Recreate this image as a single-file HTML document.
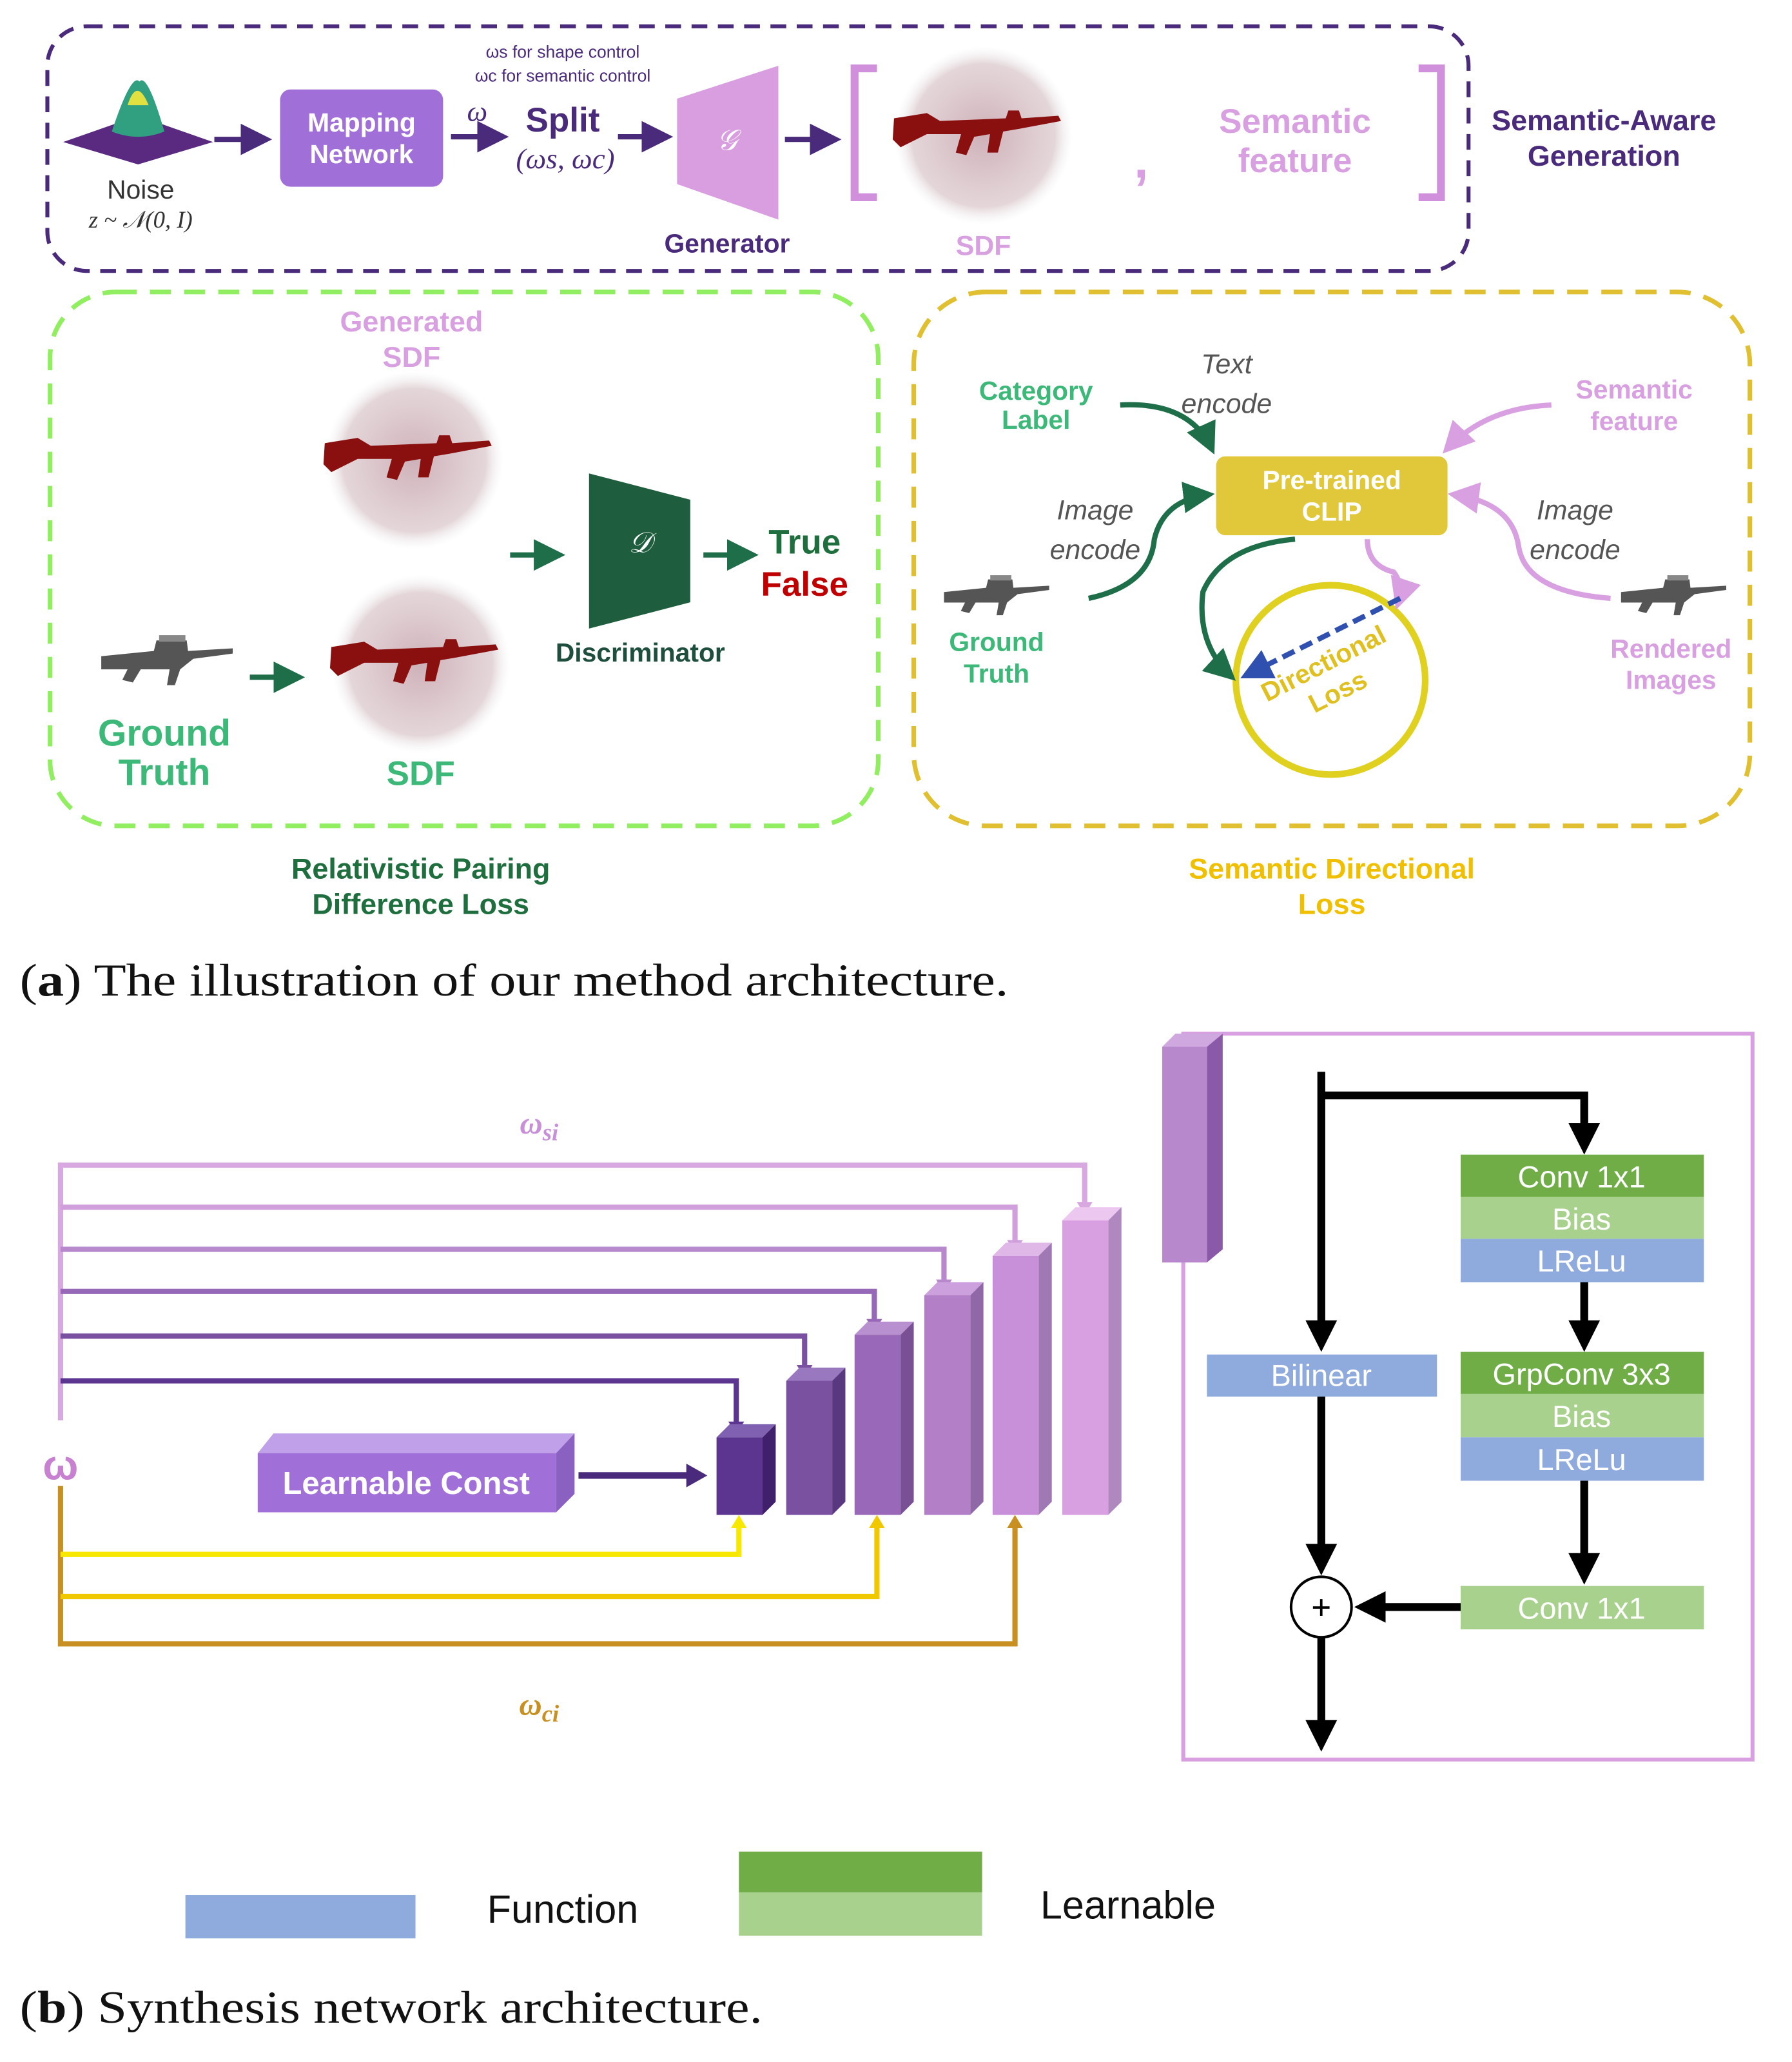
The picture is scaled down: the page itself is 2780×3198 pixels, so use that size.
<!DOCTYPE html>
<html><head><meta charset="utf-8"><style>
html,body{margin:0;padding:0;background:#fff}
svg{display:block}
text{font-family:"Liberation Sans","DejaVu Sans",sans-serif}
.b{font-weight:bold}
.s{font-family:"Liberation Serif",serif}
</style></head><body>
<svg width="2780" height="3198" viewBox="0 0 1363 1568" xmlns="http://www.w3.org/2000/svg">
<defs>
<radialGradient id="pc" cx="50%" cy="50%" r="50%">
<stop offset="0" stop-color="#c9a8b0" stop-opacity="0.9"/>
<stop offset="0.8" stop-color="#d8c4c8" stop-opacity="0.7"/>
<stop offset="1" stop-color="#eee" stop-opacity="0"/>
</radialGradient>
<marker id="ap" markerWidth="6" markerHeight="6" refX="5" refY="3" orient="auto" markerUnits="strokeWidth"><path d="M0,0L6,3L0,6z" fill="#4a2a7a"/></marker>
<marker id="ag" markerWidth="6" markerHeight="6" refX="5" refY="3" orient="auto" markerUnits="strokeWidth"><path d="M0,0L6,3L0,6z" fill="#1e6e4a"/></marker>
<marker id="ak" markerWidth="4" markerHeight="4" refX="3" refY="2" orient="auto" markerUnits="strokeWidth"><path d="M0,0L4,2L0,4z" fill="#000"/></marker>
<marker id="apk" markerWidth="6" markerHeight="6" refX="5" refY="3" orient="auto" markerUnits="strokeWidth"><path d="M0,0L6,3L0,6z" fill="#d8a0e0"/></marker>
<marker id="abl" markerWidth="6" markerHeight="6" refX="5" refY="3" orient="auto" markerUnits="strokeWidth"><path d="M0,0L6,3L0,6z" fill="#3050b0"/></marker>
<g id="gun"><path d="M-65,-8 L-40,-12 L-30,-6 L20,-8 L22,-14 L30,-14 L32,-8 L60,-10 L62,-6 L30,0 L18,2 L14,18 L6,18 L8,4 L-4,6 L-10,20 L-18,18 L-14,4 L-40,4 L-60,14 L-66,8 z" fill="#8a1010"/></g>
<g id="ggun"><path d="M-50,-6 L-10,-10 L-8,-18 L15,-18 L16,-10 L50,-12 L50,-8 L20,-4 L10,4 L6,16 L0,16 L2,4 L-20,4 L-26,14 L-34,12 L-30,4 L-50,4 z" fill="#555"/><rect x="-6" y="-22" width="20" height="5" fill="#888"/></g>
</defs>

<rect x="36" y="20" width="1081" height="186" rx="30" fill="none" stroke="#4a2a7a" stroke-width="3" stroke-dasharray="12,8"/>
<path d="M48,108 L105,88 L162,108 L105,125 z" fill="#5a2a80"/>
<path d="M85,100 Q100,55 106,62 Q112,55 125,100 Q105,108 85,100z" fill="#30a080"/>
<path d="M97,80 Q104,58 113,80z" fill="#e0e040"/>
<text x="107" y="151" font-size="20" text-anchor="middle" fill="#333">Noise</text>
<text x="107" y="173" font-size="18" text-anchor="middle" class="s" font-style="italic" fill="#333">z ~ 𝒩(0, I)</text>
<line x1="163" y1="106" x2="203" y2="106" stroke="#4a2a7a" stroke-width="4" marker-end="url(#ap)"/>
<rect x="213" y="68" width="124" height="74" rx="8" fill="#a070d8"/>
<text x="275" y="100" font-size="20" text-anchor="middle" fill="#fff" class="b">Mapping</text>
<text x="275" y="124" font-size="20" text-anchor="middle" fill="#fff" class="b">Network</text>
<text x="363" y="92" font-size="22" class="s" font-style="italic" text-anchor="middle" fill="#4a2a7a">ω</text>
<line x1="343" y1="104" x2="383" y2="104" stroke="#4a2a7a" stroke-width="4" marker-end="url(#ap)"/>
<text x="428" y="44" font-size="13" text-anchor="middle" fill="#4a2a7a">ωs for shape control</text>
<text x="428" y="62" font-size="13" text-anchor="middle" fill="#4a2a7a">ωc for semantic control</text>
<text x="428" y="100" font-size="26" text-anchor="middle" fill="#4a2a7a" class="b">Split</text>
<text x="430" y="128" font-size="22" text-anchor="middle" class="s" font-style="italic" fill="#4a2a7a">(ωs, ωc)</text>
<line x1="470" y1="104" x2="508" y2="104" stroke="#4a2a7a" stroke-width="4" marker-end="url(#ap)"/>
<path d="M515,75 L592,50 L592,167 L515,140 z" fill="#d89ee0"/>
<text x="553" y="114" font-size="22" text-anchor="middle" fill="#fff" class="s" font-style="italic">𝒢</text>
<text x="553" y="192" font-size="20" text-anchor="middle" fill="#4a2a7a" class="b">Generator</text>
<line x1="597" y1="106" x2="636" y2="106" stroke="#4a2a7a" stroke-width="4" marker-end="url(#ap)"/>
<path d="M667,52 L650,52 L650,150 L667,150" fill="none" stroke="#d090dc" stroke-width="6"/>
<circle cx="748" cy="103" r="68" fill="url(#pc)"/>
<use href="#gun" x="745" y="98"/>
<text x="748" y="194" font-size="21" text-anchor="middle" fill="#d8a0e0" class="b">SDF</text>
<text x="868" y="135" font-size="40" text-anchor="middle" fill="#d8a0e0" class="b">,</text>
<text x="985" y="101" font-size="26" text-anchor="middle" fill="#d8a0e0" class="b">Semantic</text>
<text x="985" y="131" font-size="26" text-anchor="middle" fill="#d8a0e0" class="b">feature</text>
<path d="M1079,52 L1096,52 L1096,150 L1079,150" fill="none" stroke="#d090dc" stroke-width="6"/>
<text x="1220" y="99" font-size="22" text-anchor="middle" fill="#4a2a7a" class="b">Semantic-Aware</text>
<text x="1220" y="126" font-size="22" text-anchor="middle" fill="#4a2a7a" class="b">Generation</text>

<rect x="38" y="222" width="630" height="406" rx="50" fill="none" stroke="#90ee60" stroke-width="3.5" stroke-dasharray="16,10"/>
<text x="313" y="252" font-size="22" text-anchor="middle" fill="#d8a0e0" class="b">Generated</text>
<text x="313" y="279" font-size="22" text-anchor="middle" fill="#d8a0e0" class="b">SDF</text>
<circle cx="315" cy="350" r="68" fill="url(#pc)"/>
<use href="#gun" x="312" y="345"/>
<circle cx="320" cy="505" r="68" fill="url(#pc)"/>
<use href="#gun" x="317" y="500"/>
<use href="#ggun" x="127" y="505"/>
<line x1="190" y1="515" x2="228" y2="515" stroke="#1e6e4a" stroke-width="4" marker-end="url(#ag)"/>
<text x="125" y="567" font-size="28" text-anchor="middle" fill="#3cb878" class="b">Ground</text>
<text x="125" y="597" font-size="28" text-anchor="middle" fill="#3cb878" class="b">Truth</text>
<text x="320" y="597" font-size="26" text-anchor="middle" fill="#3cb878" class="b">SDF</text>
<line x1="388" y1="422" x2="426" y2="422" stroke="#1e6e4a" stroke-width="4" marker-end="url(#ag)"/>
<path d="M448,360 L525,380 L525,458 L448,478 z" fill="#1e5e3e"/>
<text x="487" y="420" font-size="22" text-anchor="middle" fill="#fff" class="s" font-style="italic">𝒟</text>
<text x="487" y="503" font-size="20" text-anchor="middle" fill="#1e4e3e" class="b">Discriminator</text>
<line x1="535" y1="422" x2="573" y2="422" stroke="#1e6e4a" stroke-width="4" marker-end="url(#ag)"/>
<text x="612" y="421" font-size="26" text-anchor="middle" fill="#1e6e3e" class="b">True</text>
<text x="612" y="453" font-size="26" text-anchor="middle" fill="#c00000" class="b">False</text>
<text x="320" y="668" font-size="22" text-anchor="middle" fill="#1e6e3e" class="b">Relativistic Pairing</text>
<text x="320" y="695" font-size="22" text-anchor="middle" fill="#1e6e3e" class="b">Difference Loss</text>

<rect x="695" y="222" width="636" height="406" rx="55" fill="none" stroke="#e0c030" stroke-width="3.5" stroke-dasharray="16,10"/>
<text x="788" y="304" font-size="20" text-anchor="middle" fill="#3cb878" class="b">Category</text>
<text x="788" y="326" font-size="20" text-anchor="middle" fill="#3cb878" class="b">Label</text>
<text x="933" y="284" font-size="21" text-anchor="middle" fill="#555" font-style="italic">Text</text>
<text x="933" y="314" font-size="21" text-anchor="middle" fill="#555" font-style="italic">encode</text>
<path d="M852,308 Q905,305 922,342" fill="none" stroke="#1e6e4a" stroke-width="4" marker-end="url(#ag)"/>
<rect x="925" y="347" width="176" height="60" rx="7" fill="#e0c83a"/>
<text x="1013" y="372" font-size="20" text-anchor="middle" fill="#fff" class="b">Pre-trained</text>
<text x="1013" y="396" font-size="20" text-anchor="middle" fill="#fff" class="b">CLIP</text>
<text x="1243" y="303" font-size="20" text-anchor="middle" fill="#d8a0e0" class="b">Semantic</text>
<text x="1243" y="327" font-size="20" text-anchor="middle" fill="#d8a0e0" class="b">feature</text>
<path d="M1180,308 Q1130,310 1100,342" fill="none" stroke="#d8a0e0" stroke-width="4" marker-end="url(#apk)"/>
<text x="833" y="395" font-size="21" text-anchor="middle" fill="#555" font-style="italic">Image</text>
<text x="833" y="425" font-size="21" text-anchor="middle" fill="#555" font-style="italic">encode</text>
<path d="M828,455 Q875,445 878,410 Q885,380 920,376" fill="none" stroke="#1e6e4a" stroke-width="4" marker-end="url(#ag)"/>
<text x="1198" y="395" font-size="21" text-anchor="middle" fill="#555" font-style="italic">Image</text>
<text x="1198" y="425" font-size="21" text-anchor="middle" fill="#555" font-style="italic">encode</text>
<path d="M1225,455 Q1160,450 1155,415 Q1150,382 1105,376" fill="none" stroke="#d8a0e0" stroke-width="4" marker-end="url(#apk)"/>
<use href="#ggun" x="758" y="455" transform="translate(758,455) scale(0.8) translate(-758,-455)"/>
<text x="758" y="495" font-size="20" text-anchor="middle" fill="#3cb878" class="b">Ground</text>
<text x="758" y="519" font-size="20" text-anchor="middle" fill="#3cb878" class="b">Truth</text>
<use href="#ggun" x="1273" y="455" transform="translate(1273,455) scale(0.8) translate(-1273,-455)"/>
<text x="1271" y="500" font-size="20" text-anchor="middle" fill="#d8a0e0" class="b">Rendered</text>
<text x="1271" y="524" font-size="20" text-anchor="middle" fill="#d8a0e0" class="b">Images</text>
<circle cx="1012" cy="517" r="72" fill="none" stroke="#e0d020" stroke-width="5"/>
<path d="M985,410 Q930,415 915,450 Q910,490 937,515" fill="none" stroke="#1e6e4a" stroke-width="4" marker-end="url(#ag)"/>
<path d="M1040,410 Q1040,430 1060,435 Q1068,445 1063,460" fill="none" stroke="#d8a0e0" stroke-width="4" marker-end="url(#apk)"/>
<line x1="1065" y1="455" x2="947" y2="514" stroke="#3050b0" stroke-width="4" stroke-dasharray="10,5" marker-end="url(#abl)"/>
<g transform="rotate(-27 1012 515)"><text x="1012" y="510" font-size="20" text-anchor="middle" fill="#e0c020" class="b">Directional</text><text x="1012" y="534" font-size="20" text-anchor="middle" fill="#e0c020" class="b">Loss</text></g>
<text x="1013" y="668" font-size="22" text-anchor="middle" fill="#f0c000" class="b">Semantic Directional</text>
<text x="1013" y="695" font-size="22" text-anchor="middle" fill="#f0c000" class="b">Loss</text>

<text x="15" y="757" font-size="35" class="s" fill="#111" textLength="752" lengthAdjust="spacingAndGlyphs">(<tspan font-weight="bold">a</tspan>) The illustration of our method architecture.</text>

<text x="410" y="862" font-size="24" text-anchor="middle" fill="#c890d8" class="s b" font-style="italic">ω<tspan font-size="18" dy="5">si</tspan></text>
<g fill="none" stroke-width="4">
<path d="M46,1080 L46,886 L825,886 L825,916" stroke="#d8a8e0"/>
<path d="M46,918 L772,918 L772,945" stroke="#d0a0dc"/>
<path d="M46,950 L718,950 L718,975" stroke="#b888cc"/>
<path d="M46,982 L665,982 L665,1005" stroke="#9868b8"/>
<path d="M46,1016 L612,1016 L612,1040" stroke="#7a50a0"/>
<path d="M46,1050 L560,1050 L560,1083" stroke="#5c3590"/>
<path d="M46,1130 L46,1250 L772,1250 L772,1160" stroke="#c89020"/>
<path d="M46,1182 L562,1182 L562,1160" stroke="#f8e800"/>
<path d="M46,1214 L667,1214 L667,1160" stroke="#f0c800"/>
</g>
<g>
<path d="M819,914 L825,924 L831,914z" fill="#d8a8e0"/>
<path d="M766,943 L772,953 L778,943z" fill="#d0a0dc"/>
<path d="M712,973 L718,983 L724,973z" fill="#b888cc"/>
<path d="M659,1003 L665,1013 L671,1003z" fill="#9868b8"/>
<path d="M606,1038 L612,1048 L618,1038z" fill="#7a50a0"/>
<path d="M554,1081 L560,1091 L566,1081z" fill="#5c3590"/>
<path d="M556,1162 L562,1152 L568,1162z" fill="#f8e800"/>
<path d="M661,1162 L667,1152 L673,1162z" fill="#f0c800"/>
<path d="M766,1162 L772,1152 L778,1162z" fill="#c89020"/>
</g>
<text x="46" y="1125" font-size="32" text-anchor="middle" fill="#c880d0" class="b">ω</text>
<text x="410" y="1304" font-size="24" text-anchor="middle" fill="#c89020" class="s b" font-style="italic">ω<tspan font-size="18" dy="5">ci</tspan></text>

<path d="M196,1105 L208,1090 L437,1090 L423,1105z" fill="#c0a0e8"/>
<path d="M423,1105 L437,1090 L437,1136 L423,1150z" fill="#8a60c0"/>
<rect x="196" y="1105" width="227" height="45" fill="#a070d8"/>
<text x="309" y="1136" font-size="24" text-anchor="middle" fill="#fff" class="b">Learnable Const</text>
<line x1="440" y1="1122" x2="528" y2="1122" stroke="#4a2a7a" stroke-width="5"/>
<path d="M522,1113 L538,1122 L522,1131z" fill="#4a2a7a"/>

<g>
<path d="M545,1093 L555,1083 L590,1083 L580,1093z" fill="#8060b0"/><path d="M580,1093 L590,1083 L590,1142 L580,1152z" fill="#40206a"/><rect x="545" y="1093" width="35" height="59" fill="#5c3590"/>
<path d="M598,1050 L608,1040 L643,1040 L633,1050z" fill="#9a78c0"/><path d="M633,1050 L643,1040 L643,1142 L633,1152z" fill="#5a3880"/><rect x="598" y="1050" width="35" height="102" fill="#7a50a0"/>
<path d="M650,1015 L660,1005 L695,1005 L685,1015z" fill="#b890d0"/><path d="M685,1015 L695,1005 L695,1142 L685,1152z" fill="#7a5095"/><rect x="650" y="1015" width="35" height="137" fill="#9a68b8"/>
<path d="M703,985 L713,975 L748,975 L738,985z" fill="#cca0dc"/><path d="M738,985 L748,975 L748,1142 L738,1152z" fill="#9068a8"/><rect x="703" y="985" width="35" height="167" fill="#b380c8"/>
<path d="M755,955 L765,945 L800,945 L790,955z" fill="#e0b8e8"/><path d="M790,955 L800,945 L800,1142 L790,1152z" fill="#a078b4"/><rect x="755" y="955" width="35" height="197" fill="#c890d8"/>
<path d="M808,928 L818,918 L853,918 L843,928z" fill="#ecc8f0"/><path d="M843,928 L853,918 L853,1142 L843,1152z" fill="#b088c0"/><rect x="808" y="928" width="35" height="224" fill="#d8a0e0"/>
</g>

<rect x="900" y="786" width="433" height="552" fill="none" stroke="#d8a0e0" stroke-width="3"/>
<path d="M884,796 L894,786 L930,786 L918,796z" fill="#d0a8e0"/>
<path d="M918,796 L930,786 L930,950 L918,960z" fill="#8a5aa8"/>
<rect x="884" y="796" width="34" height="164" fill="#b888cc"/>

<g stroke="#000" stroke-width="6" fill="none">
<line x1="1005" y1="815" x2="1005" y2="1022" marker-end="url(#ak)"/>
<polyline points="1003,833 1205,833 1205,872" marker-end="url(#ak)"/>
<line x1="1205" y1="975" x2="1205" y2="1022" marker-end="url(#ak)"/>
<line x1="1205" y1="1126" x2="1205" y2="1199" marker-end="url(#ak)"/>
<line x1="1005" y1="1062" x2="1005" y2="1192" marker-end="url(#ak)"/>
<line x1="1111" y1="1222" x2="1036" y2="1222" marker-end="url(#ak)"/>
<line x1="1005" y1="1245" x2="1005" y2="1326" marker-end="url(#ak)"/>
</g>
<circle cx="1005" cy="1222" r="23" fill="#fff" stroke="#000" stroke-width="2"/>
<text x="1005" y="1231" font-size="26" text-anchor="middle" fill="#000">+</text>
<g font-size="23" text-anchor="middle" fill="#fff">
<rect x="1111" y="878" width="185" height="32" fill="#70ad47"/><text x="1203" y="903">Conv 1x1</text>
<rect x="1111" y="910" width="185" height="32" fill="#a9d18e"/><text x="1203" y="935">Bias</text>
<rect x="1111" y="942" width="185" height="33" fill="#8faadc"/><text x="1203" y="967">LReLu</text>
<rect x="1111" y="1028" width="185" height="32" fill="#70ad47"/><text x="1203" y="1053">GrpConv 3x3</text>
<rect x="1111" y="1060" width="185" height="33" fill="#a9d18e"/><text x="1203" y="1085">Bias</text>
<rect x="1111" y="1093" width="185" height="33" fill="#8faadc"/><text x="1203" y="1118">LReLu</text>
<rect x="1111" y="1206" width="185" height="33" fill="#a9d18e"/><text x="1203" y="1231">Conv 1x1</text>
<rect x="918" y="1030" width="175" height="32" fill="#8faadc"/><text x="1005" y="1054">Bilinear</text>
</g>

<rect x="141" y="1441" width="175" height="33" fill="#8faadc"/>
<text x="428" y="1462" font-size="30" text-anchor="middle" fill="#111">Function</text>
<rect x="562" y="1408" width="185" height="31" fill="#70ad47"/>
<rect x="562" y="1439" width="185" height="33" fill="#a9d18e"/>
<text x="858" y="1459" font-size="30" text-anchor="middle" fill="#111">Learnable</text>
<text x="15" y="1538" font-size="35" class="s" fill="#111" textLength="565" lengthAdjust="spacingAndGlyphs">(<tspan font-weight="bold">b</tspan>) Synthesis network architecture.</text>
</svg>
</body></html>
